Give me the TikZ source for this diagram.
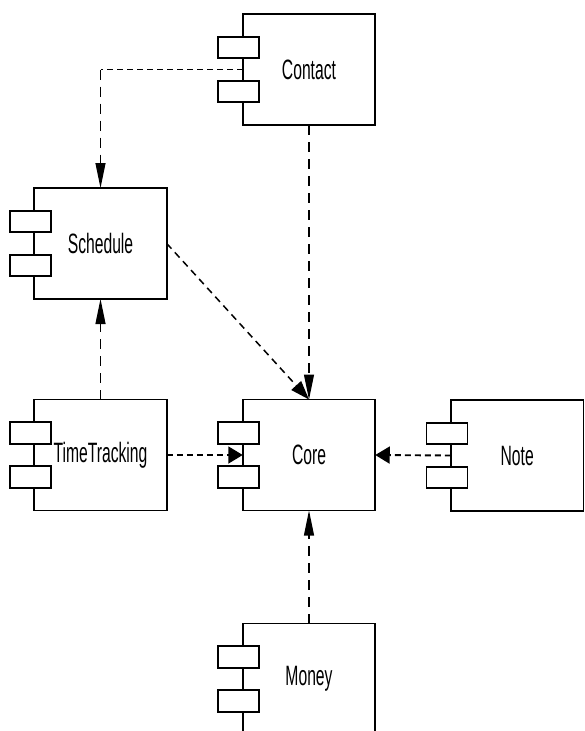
\documentclass[tikz,border=0pt]{standalone}
\usepackage{fontspec}
\setmainfont{Liberation Sans}
\usetikzlibrary{arrows.meta}
\newcommand{\narrowtext}[1]{\scalebox{0.56}[1]{#1}}
\begin{document}
\begin{tikzpicture}[x=1pt,y=-1pt]
	\tikzstyle{comp}=[draw, line width=1.6pt, outer sep=0pt, inner sep=0pt, minimum width=132.5pt, minimum height=111pt, font=\fontsize{28}{30}\selectfont]
	\tikzstyle{port}=[draw, fill=white, line width=1.6pt]
	\tikzstyle{deph}=[line width=1.9pt, dash pattern=on 6pt off 4pt, -{Triangle[length=14.5pt,width=17pt]}]
	\tikzstyle{depv}=[line width=1.1pt, dash pattern=on 10pt off 7pt, -{Triangle[length=25pt,width=10pt]}]
	\tikzstyle{depd}=[line width=1.5pt, dash pattern=on 7pt off 5pt, -{Triangle[length=19pt,width=13pt]}]
	\clip (0,0) rectangle (584,731);
	% components
	\node[comp] (contact) at (309,69.5) {\narrowtext{Contact}};
	\node[comp] (schedule) at (100.5,243.5) {\narrowtext{Schedule}};
	\node[comp] (timetrack) at (100.5,455) {\narrowtext{TimeTracking}};
	\node[comp] (core) at (309,455) {\narrowtext{Core}};
	\node[comp] (note) at (517.2,455.5) {\narrowtext{Note}};
	\node[comp] (money) at (309,679) {\narrowtext{Money}};
	\foreach \n in {contact,schedule,timetrack,core,note,money} {
		\draw[port] ([xshift=-24.5pt,yshift=32.75pt]\n.west) rectangle ([xshift=16.5pt,yshift=11.25pt]\n.west);
		\draw[port] ([xshift=-24.5pt,yshift=-11.25pt]\n.west) rectangle ([xshift=16.5pt,yshift=-32.75pt]\n.west);
	}
	% dependencies
	\coordinate (bend) at (schedule.north |- contact.west);
	\draw[deph,-] (contact.west) -- (bend);
	\draw[depv] (bend) -- (schedule.north);
	\draw[depv] (contact.south) -- (core.north);
	\draw[depd] (schedule.east) -- (core.north);
	\draw[depv] (timetrack.north) -- (schedule.south);
	\draw[deph] (timetrack.east) -- (core.west);
	\draw[deph] (note.west) -- (core.east);
	\draw[depv] (money.north) -- (core.south);
\end{tikzpicture}
\end{document}
